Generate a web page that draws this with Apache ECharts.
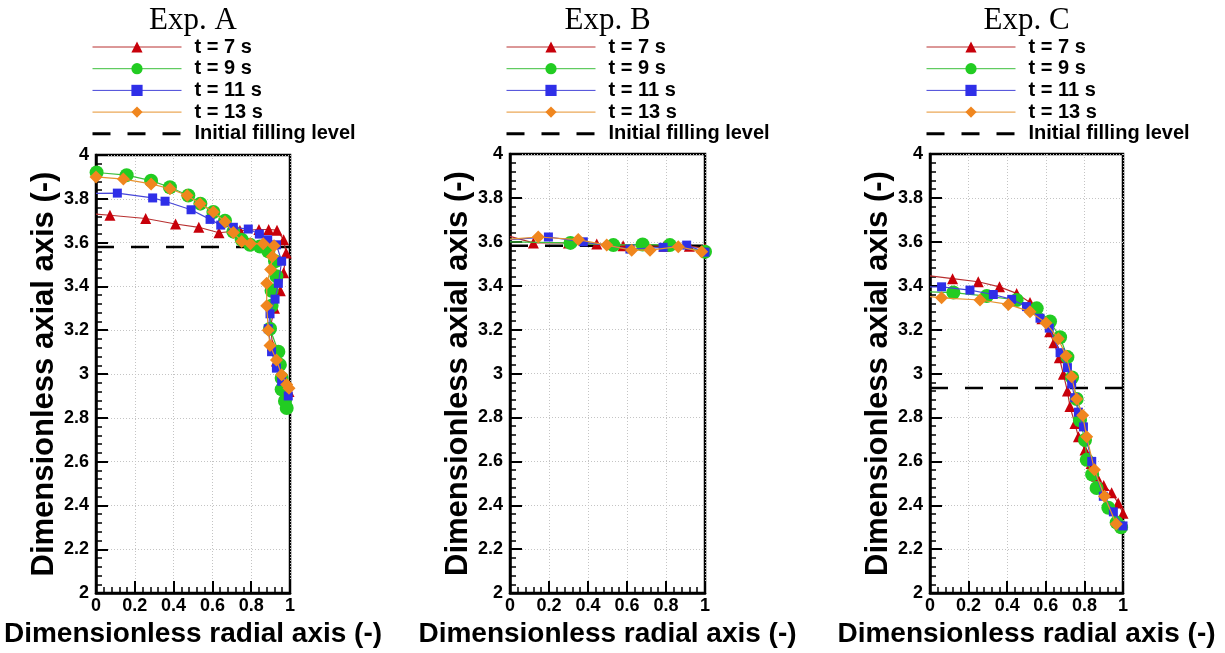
<!DOCTYPE html>
<html>
<head>
<meta charset="utf-8">
<script src="https://cdn.jsdelivr.net/npm/echarts@6/dist/echarts.min.js"></script>
<style>
html,body{margin:0;padding:0;background:#fff;}
#chart{width:1225px;height:653px;}
</style>
</head>
<body>
<div id="chart"></div>
<script>
// ---------- data ----------
const panelTitles = ['Exp. A', 'Exp. B', 'Exp. C'];
const seriesNames = ['t = 7 s', 't = 9 s', 't = 11 s', 't = 13 s'];
const levelName = 'Initial filling level';
const xTicks = [0, 0.2, 0.4, 0.6, 0.8, 1];
const yTicks = [2, 2.2, 2.4, 2.6, 2.8, 3, 3.2, 3.4, 3.6, 3.8, 4];

// Exp. A
const redA = [[0,3.73],[0.072,3.725],[0.256,3.71],[0.41,3.685],[0.53,3.67],[0.634,3.645],[0.742,3.655],[0.84,3.66],[0.89,3.66],[0.933,3.657],[0.967,3.613],[0.98,3.553],[0.967,3.463],[0.95,3.38],[0.92,3.30],[0.9,3.22],[0.91,3.13],[0.93,3.06],[0.96,3.0],[0.985,2.95],[0.995,2.92]];
const greenA = [[0.003,3.92],[0.158,3.908],[0.284,3.883],[0.381,3.853],[0.476,3.815],[0.538,3.778],[0.605,3.74],[0.665,3.70],[0.708,3.65],[0.751,3.613],[0.794,3.59],[0.845,3.582],[0.888,3.56],[0.923,3.515],[0.93,3.447],[0.905,3.38],[0.905,3.312],[0.897,3.207],[0.94,3.102],[0.948,3.042],[0.957,2.982],[0.957,2.93],[0.974,2.877],[0.983,2.845]];
const blueA = [[0,3.825],[0.11,3.826],[0.292,3.804],[0.356,3.789],[0.49,3.75],[0.588,3.706],[0.643,3.68],[0.708,3.67],[0.785,3.662],[0.842,3.639],[0.885,3.613],[0.93,3.59],[0.957,3.515],[0.94,3.414],[0.923,3.342],[0.897,3.275],[0.888,3.207],[0.905,3.102],[0.93,3.027],[0.957,2.967],[0.991,2.90]];
const orangeA = [[0,3.90],[0.141,3.89],[0.284,3.868],[0.381,3.846],[0.47,3.815],[0.536,3.778],[0.605,3.74],[0.665,3.695],[0.708,3.646],[0.751,3.605],[0.796,3.595],[0.862,3.595],[0.918,3.586],[0.909,3.537],[0.9,3.477],[0.88,3.414],[0.88,3.312],[0.888,3.2],[0.897,3.13],[0.93,3.064],[0.957,2.997],[0.983,2.952],[0.995,2.935]];
const levelA = [[0,3.58],[1,3.58]];

// Exp. B
const redB = [[0,3.625],[0.12,3.595],[0.3,3.595],[0.445,3.59],[0.58,3.582],[0.79,3.58],[0.92,3.58],[1.0,3.57]];
const greenB = [[0,3.60],[0.31,3.595],[0.53,3.585],[0.68,3.588],[0.82,3.585],[1.0,3.555]];
const blueB = [[0,3.61],[0.197,3.622],[0.376,3.60],[0.615,3.567],[0.785,3.575],[0.906,3.585],[1.0,3.553]];
const orangeB = [[0,3.612],[0.145,3.622],[0.35,3.61],[0.496,3.585],[0.624,3.562],[0.718,3.562],[0.863,3.578],[0.983,3.555]];
const levelB = [[0,3.582],[1,3.582]];

// Exp. C
const redC = [[0,3.445],[0.117,3.432],[0.25,3.418],[0.36,3.395],[0.449,3.365],[0.518,3.324],[0.58,3.25],[0.62,3.19],[0.642,3.14],[0.67,3.072],[0.691,2.997],[0.712,2.92],[0.725,2.85],[0.751,2.772],[0.769,2.712],[0.803,2.652],[0.835,2.59],[0.863,2.532],[0.9,2.49],[0.941,2.457],[0.975,2.41],[1.0,2.364]];
const greenC = [[0,3.372],[0.121,3.369],[0.294,3.353],[0.449,3.335],[0.553,3.297],[0.622,3.237],[0.674,3.165],[0.712,3.075],[0.736,2.982],[0.76,2.884],[0.777,2.787],[0.803,2.697],[0.812,2.607],[0.84,2.54],[0.863,2.479],[0.924,2.389],[0.967,2.321],[0.99,2.30]];
const blueC = [[0,3.395],[0.06,3.395],[0.207,3.38],[0.328,3.36],[0.423,3.338],[0.5,3.305],[0.57,3.252],[0.618,3.207],[0.674,3.095],[0.712,3.027],[0.734,2.952],[0.75,2.89],[0.769,2.824],[0.795,2.757],[0.838,2.6],[0.898,2.441],[0.95,2.37],[1.0,2.306]];
const orangeC = [[0,3.35],[0.06,3.345],[0.259,3.335],[0.406,3.315],[0.518,3.282],[0.601,3.23],[0.665,3.159],[0.705,3.08],[0.734,2.985],[0.76,2.884],[0.791,2.81],[0.812,2.712],[0.852,2.562],[0.904,2.441],[0.965,2.315]];
const levelC = [[0,2.934],[1,2.934]];

// ---------- styling / layout ----------
const panelData = [
  {series:[redA, greenA, blueA, orangeA], level:levelA, lineStartOnly:[true,false,true,false]},
  {series:[redB, greenB, blueB, orangeB], level:levelB, lineStartOnly:[true,true,true,true]},
  {series:[redC, greenC, blueC, orangeC], level:levelC, lineStartOnly:[true,true,true,true]}
];
const grids = [
  {left:96, top:155, width:194, height:443, nameGap:31},
  {left:510, top:154, width:195, height:440, nameGap:35},
  {left:930, top:154, width:193, height:443, nameGap:36}
];
const markerColors = ['#c8000a', '#22cc22', '#2f2fe8', '#f0861e'];
const lineColors = ['#b83030', '#3cbf3c', '#4646d8', '#e6922e'];
const symbols = ['triangle', 'circle', 'rect', 'diamond'];
const symbolSizes = [11, 14, 9, 13];
const font = '"Liberation Sans", Arial, sans-serif';

const option = {
  backgroundColor:'#fff',
  animation:false,
  title:[], legend:[], grid:[], xAxis:[], yAxis:[], series:[]
};

grids.forEach((g, p) => {
  option.title.push({
    text: panelTitles[p], left: g.left + g.width/2, top: 5, textAlign:'center',
    padding:0,
    textStyle:{fontFamily:'"Liberation Serif", "Times New Roman", serif', fontSize:31, fontWeight:'normal', color:'#000'}
  });
  option.legend.push({
    orient:'vertical', left: g.left - 5, top: 37, padding:0,
    itemWidth:89, itemHeight:14, itemGap:1.7, selectedMode:false,
    textStyle:{fontFamily:font, fontWeight:'bold', fontSize:20, color:'#000', padding:[0,0,0,8]},
    data: seriesNames.map((n,i)=>({name:n, lineStyle:{width:1}}))
      .concat([{name:levelName, itemStyle:{opacity:0}, lineStyle:{width:3}}])
  });
  option.grid.push({left:g.left, top:g.top, width:g.width, height:g.height, show:true,
    borderColor:'#000', borderWidth:2.5, backgroundColor:'#fff', containLabel:false});
  option.xAxis.push({
    type:'value', gridIndex:p, min:0, max:1, interval:0.2,
    name:'Dimensionless radial axis (-)', nameLocation:'middle', nameGap:20,
    nameTextStyle:{fontFamily:font, fontWeight:'bold', fontSize:28, color:'#000'},
    axisLine:{show:true, onZero:false, lineStyle:{color:'#000', width:2.5}},
    axisTick:{show:true, inside:true, length:12, lineStyle:{color:'#000', width:2}},
    minorTick:{show:true, splitNumber:5, length:6, lineStyle:{color:'#000', width:1.5}},
    axisLabel:{fontFamily:font, fontWeight:'bold', fontSize:18, color:'#000', margin:4},
    splitLine:{show:true, lineStyle:{color:'#c4c4c4', type:[1,2], width:1}}
  });
  option.yAxis.push({
    type:'value', gridIndex:p, min:2, max:4, interval:0.2,
    name:'Dimensionless axial axis (-)', nameLocation:'middle', nameGap:g.nameGap,
    nameTextStyle:{fontFamily:font, fontWeight:'bold', fontSize:31, color:'#000'},
    axisLine:{show:true, onZero:false, lineStyle:{color:'#000', width:2.5}},
    axisTick:{show:true, inside:true, length:12, lineStyle:{color:'#000', width:2}},
    minorTick:{show:true, splitNumber:5, length:6, lineStyle:{color:'#000', width:1.5}},
    axisLabel:{fontFamily:font, fontWeight:'bold', fontSize:18, color:'#000', margin:7},
    splitLine:{show:true, lineStyle:{color:'#c4c4c4', type:[1,2], width:1}}
  });
  const pd = panelData[p];
  option.series.push({
    name: levelName, type:'line', xAxisIndex:p, yAxisIndex:p, data: pd.level,
    symbol:'none', z:1, color:'#000',
    lineStyle:{color:'#000', width:2.5, type:[18,17]}
  });
  pd.series.forEach((arr, i) => {
    option.series.push({
      name: seriesNames[i], type:'line', xAxisIndex:p, yAxisIndex:p, z:2+i,
      data: arr.map((pt, k) => (k === 0 && pd.lineStartOnly[i]) ? {value:pt, symbol:'none'} : pt),
      symbol: symbols[i], symbolSize: symbolSizes[i], showAllSymbol:true,
      color: markerColors[i],
      itemStyle:{color: markerColors[i]},
      lineStyle:{color: lineColors[i], width:1.2}
    });
  });
});

const chart = echarts.init(document.getElementById('chart'), null, {renderer:'canvas'});
chart.setOption(option);
</script>
</body>
</html>
